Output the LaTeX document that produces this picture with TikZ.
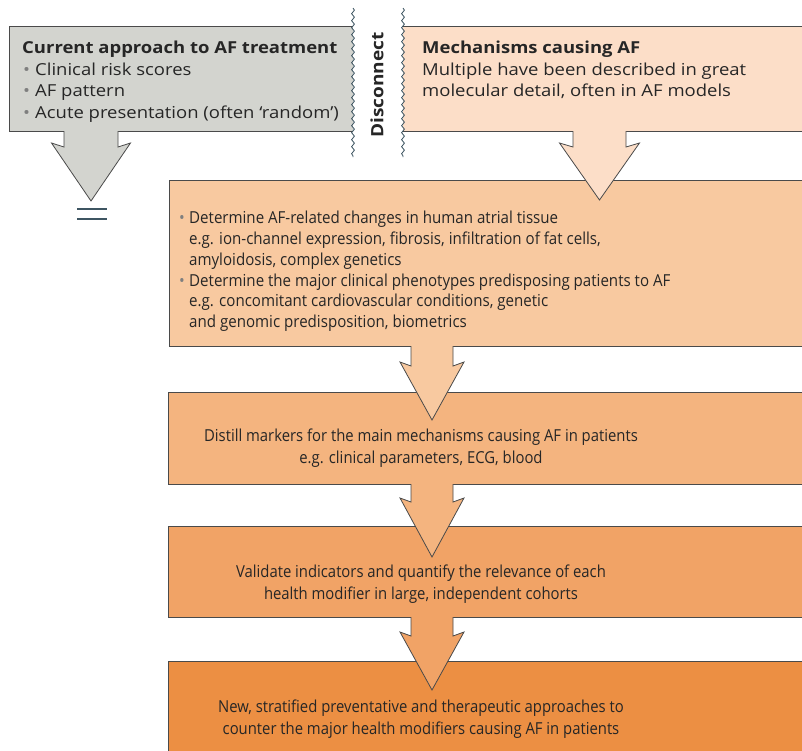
\documentclass[tikz,border=0pt]{standalone}
\usepackage{fontspec}
\setmainfont[FakeStretch=1.12]{Open Sans}
\newfontfamily\midfont[FakeStretch=0.915]{Open Sans}
\newfontfamily\condfont[FakeStretch=0.90]{Open Sans}
\usetikzlibrary{decorations.pathmorphing,calc}
\definecolor{greyfill}{HTML}{D3D4CF}
\definecolor{peach0}{HTML}{FCDEC8}
\definecolor{peach1}{HTML}{F8C9A0}
\definecolor{peach2}{HTML}{F4B47F}
\definecolor{peach3}{HTML}{F1A366}
\definecolor{peach4}{HTML}{EC8F43}
\definecolor{edgecol}{HTML}{4A4A4A}
\definecolor{textcol}{HTML}{262626}
\definecolor{bulcol}{HTML}{7F7F7F}
\definecolor{slate}{HTML}{3E5562}
\newcommand\bulA{\hspace*{1pt}\makebox[12pt][l]{\color{bulcol}\textbullet}}
\newcommand\bulB{\makebox[10pt][l]{\color{bulcol}\textbullet}}
\newcommand\contB{\hspace*{10pt}}
% #1 fill, #2 centre x, #3 stem half width, #4 barb half width, #5 top y, #6 stem bottom y, #7 tip y
\newcommand\flowarrow[7]{%
  \fill[#1] ({#2-#3},{#5-1}) -- ({#2-#3},#6) -- ({#2-#4},{#6-4}) -- (#2,#7)
     -- ({#2+#4},{#6-4}) -- ({#2+#3},#6) -- ({#2+#3},{#5-1}) -- cycle;
  \draw[edge] ({#2-#3},#5) -- ({#2-#3},#6) -- ({#2-#4},{#6-4}) -- (#2,#7)
     -- ({#2+#4},{#6-4}) -- ({#2+#3},#6) -- ({#2+#3},#5);}
\begin{document}
\begin{tikzpicture}[x=1pt,y=-1pt,
  edge/.style={draw=edgecol,line width=0.8pt,line join=miter},
  boxfill/.style={draw=none,inner sep=0,outer sep=0,anchor=north west},
  flowbox/.style={boxfill,draw=edgecol,line width=0.8pt},
  wavy/.style={draw=slate,line width=0.8pt,decorate,decoration={snake,amplitude=1.4pt,segment length=7pt}},
  toptext/.style={anchor=north west,align=left,inner sep=0,text=textcol,font=\fontsize{16.5}{21.5}\selectfont},
  midtext/.style={anchor=north west,align=left,inner sep=0,text=textcol,font=\midfont\fontsize{16.5}{20.8}\selectfont},
  lowtext/.style={anchor=north,align=center,inner sep=0,text=textcol,font=\condfont\fontsize{16.5}{21.5}\selectfont}]
\useasboundingbox (0,0) rectangle (802,750);
\clip (0,0) rectangle (802,750);
\fill[white] (0,0) rectangle (802,750);
% top boxes
\node[boxfill,fill=greyfill,minimum width=344pt,minimum height=105pt] (g) at (9,26) {};
\draw[edge] (g.north east) -- (g.north west) -- (g.south west) -- (g.south east);
\node[boxfill,fill=peach0,minimum width=410pt,minimum height=105pt] (m) at (403,26) {};
\draw[edge] (m.north west) -- (m.north east) -- (m.south east) -- (m.south west);
% wavy separators
\coordinate (w1t) at (353,8); \coordinate (w1b) at (353,157);
\coordinate (w2t) at (403,8); \coordinate (w2b) at (403,157);
\draw[wavy] (w1t) -- (w1b);
\draw[wavy] (w2t) -- (w2b);
\node[rotate=90,inner sep=0,text=textcol,font=\bfseries\fontsize{17}{20}\selectfont] (dis) at (377,85) {Disconnect};
% box 2
\node[flowbox,fill=peach1,minimum width=660pt,minimum height=166pt] (b2) at (169,180) {};
% arrows from top boxes
\flowarrow{greyfill}{91}{27}{39.5}{131}{147}{201}
\flowarrow{peach0}{599.5}{26.5}{40}{131}{147}{200}
% equals sign
\coordinate (e1) at (77,209); \coordinate (e2) at (107,209);
\coordinate (e3) at (77,219); \coordinate (e4) at (107,219);
\draw[slate,line width=2.6pt] (e1) -- (e2) (e3) -- (e4);
% box 3
\node[flowbox,fill=peach2,minimum width=660pt,minimum height=92pt] (b3) at (168,392) {};
\flowarrow{peach1}{432}{21}{32}{346}{366}{420}
% box 4
\node[flowbox,fill=peach3,minimum width=660pt,minimum height=91pt] (b4) at (168,526) {};
\flowarrow{peach2}{432}{21}{32}{484}{502}{557}
% box 5
\node[flowbox,fill=peach4,minimum width=660pt,minimum height=120pt] (b5) at (168,661) {};
\flowarrow{peach3}{432}{21}{32}{617}{636}{690}
% texts
\node[toptext] (gt) at (22,41) {\textbf{Current approach to AF treatment}\\
  \bulA Clinical risk scores\\
  \bulA AF pattern\\
  \bulA Acute presentation (often ‘random’)};
\node[toptext] (mt) at (422,41) {\textbf{Mechanisms causing AF}\\
  Multiple have been described in great\\
  molecular detail, often in AF models};
\node[midtext] (t2) at (179,211) {\bulB Determine AF-related changes in human atrial tissue\\
  \contB e.g. ion-channel expression, fibrosis, infiltration of fat cells,\\
  \contB amyloidosis, complex genetics\\
  \bulB Determine the major clinical phenotypes predisposing patients to AF\\
  \contB e.g. concomitant cardiovascular conditions, genetic\\
  \contB and genomic predisposition, biometrics};
\node[lowtext] (t3) at (421,429) {Distill markers for the main mechanisms causing AF in patients\\
  e.g. clinical parameters, ECG, blood};
\node[lowtext] (t4) at (421,565) {Validate indicators and quantify the relevance of each\\
  health modifier in large, independent cohorts};
\node[lowtext] (t5) at (421,700) {New, stratified preventative and therapeutic approaches to\\
  counter the major health modifiers causing AF in patients};
\end{tikzpicture}
\end{document}
